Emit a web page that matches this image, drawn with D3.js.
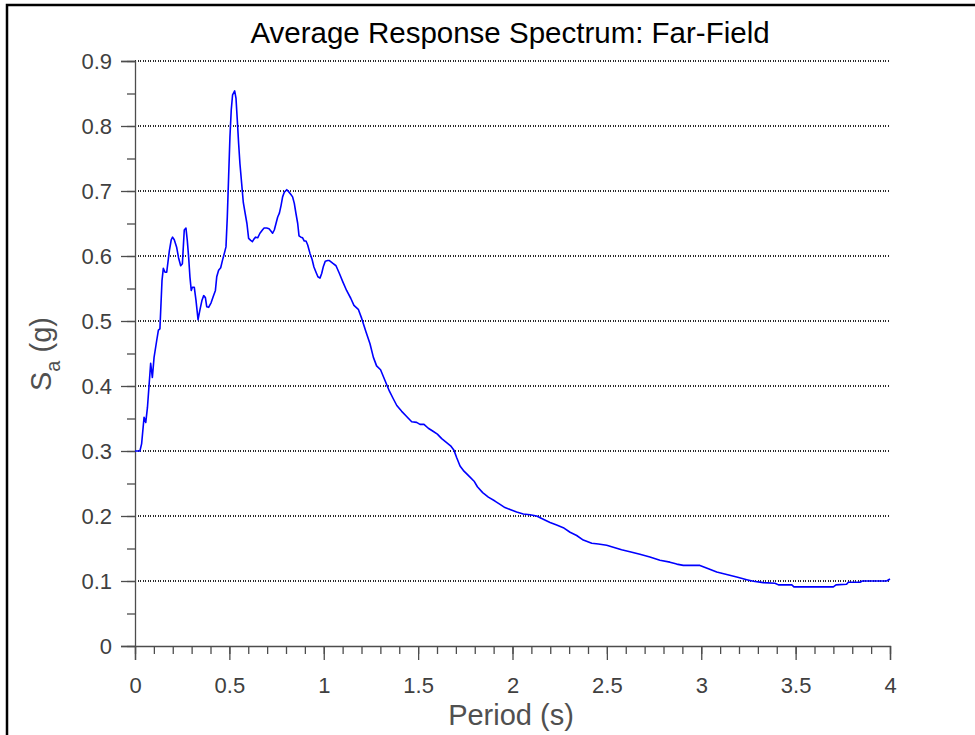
<!DOCTYPE html>
<html>
<head>
<meta charset="utf-8">
<script src="https://cdn.jsdelivr.net/npm/d3@7"></script>
<style>
  html, body { margin: 0; padding: 0; background: #fff; }
  svg { display: block; font-family: "Liberation Sans", Arial, Helvetica, sans-serif; }
</style>
</head>
<body>
<svg id="chart" width="975" height="735"></svg>
<script>
// ---- Data ----
const titleText = "Average Response Spectrum: Far-Field";
const xLabel = "Period (s)";
const xTicks = [0, 0.5, 1, 1.5, 2, 2.5, 3, 3.5, 4];
const xTickLabels = ["0", "0.5", "1", "1.5", "2", "2.5", "3", "3.5", "4"];
const yTicks = [0, 0.1, 0.2, 0.3, 0.4, 0.5, 0.6, 0.7, 0.8, 0.9];
const yTickLabels = ["0", "0.1", "0.2", "0.3", "0.4", "0.5", "0.6", "0.7", "0.8", "0.9"];
const xMinorTicks = d3.range(0, 41).map(i => i / 10);
const yMinorTicks = d3.range(0, 19).map(i => i / 20);

const period = [
  0, 0.026, 0.035, 0.048, 0.057, 0.066, 0.083, 0.092, 0.101, 0.115,
  0.124, 0.132, 0.143, 0.150, 0.159, 0.168, 0.182, 0.192, 0.199, 0.208,
  0.221, 0.231, 0.242, 0.251, 0.261, 0.270, 0.277, 0.284, 0.291, 0.298,
  0.304, 0.314, 0.323, 0.334, 0.344, 0.355, 0.364, 0.373, 0.380, 0.390,
  0.403, 0.415, 0.426, 0.433, 0.443, 0.454, 0.464, 0.475, 0.482, 0.489,
  0.496, 0.503, 0.510, 0.517, 0.528, 0.535, 0.542, 0.549, 0.556, 0.565,
  0.574, 0.584, 0.593, 0.602, 0.613, 0.622, 0.630, 0.639, 0.650, 0.662,
  0.675, 0.684, 0.698, 0.710, 0.721, 0.729, 0.738, 0.747, 0.756, 0.765,
  0.774, 0.782, 0.791, 0.804, 0.814, 0.825, 0.835, 0.844, 0.853, 0.862,
  0.869, 0.879, 0.888, 0.897, 0.906, 0.915, 0.927, 0.938, 0.948, 0.959,
  0.969, 0.980, 0.989, 0.998, 1.008, 1.021, 1.030, 1.047, 1.065, 1.083,
  1.100, 1.121, 1.143, 1.160, 1.183, 1.201, 1.224, 1.245, 1.263, 1.280,
  1.301, 1.325, 1.348, 1.369, 1.387, 1.413, 1.439, 1.466, 1.492, 1.510,
  1.531, 1.554, 1.581, 1.602, 1.625, 1.651, 1.672, 1.690, 1.704, 1.722,
  1.743, 1.771, 1.798, 1.814, 1.842, 1.872, 1.907, 1.934, 1.960, 1.987,
  2.022, 2.057, 2.093, 2.128, 2.163, 2.199, 2.234, 2.269, 2.305, 2.340,
  2.375, 2.420, 2.455, 2.499, 2.534, 2.578, 2.622, 2.675, 2.728, 2.781,
  2.834, 2.870, 2.905, 2.993, 3.038, 3.082, 3.135, 3.188, 3.241, 3.276,
  3.329, 3.391, 3.409, 3.480, 3.491, 3.700, 3.714, 3.770, 3.779, 3.841,
  3.853, 3.982, 4.0
];
const sa = [
  0.300, 0.300, 0.311, 0.352, 0.344, 0.367, 0.435, 0.413, 0.444, 0.470,
  0.486, 0.488, 0.562, 0.581, 0.575, 0.575, 0.608, 0.625, 0.629, 0.625,
  0.613, 0.597, 0.585, 0.588, 0.640, 0.643, 0.624, 0.599, 0.568, 0.547,
  0.552, 0.552, 0.532, 0.502, 0.517, 0.532, 0.539, 0.536, 0.522, 0.521,
  0.528, 0.538, 0.547, 0.568, 0.578, 0.582, 0.594, 0.606, 0.614, 0.660,
  0.722, 0.783, 0.825, 0.848, 0.854, 0.843, 0.809, 0.773, 0.742, 0.712,
  0.682, 0.665, 0.650, 0.627, 0.624, 0.622, 0.626, 0.629, 0.628, 0.635,
  0.640, 0.643, 0.643, 0.642, 0.638, 0.635, 0.640, 0.650, 0.660, 0.666,
  0.678, 0.691, 0.698, 0.702, 0.699, 0.695, 0.691, 0.681, 0.665, 0.650,
  0.631, 0.629, 0.628, 0.623, 0.623, 0.617, 0.604, 0.595, 0.583, 0.575,
  0.568, 0.566, 0.573, 0.584, 0.592, 0.593, 0.593, 0.589, 0.585, 0.573,
  0.561, 0.547, 0.535, 0.524, 0.518, 0.504, 0.483, 0.465, 0.444, 0.431,
  0.425, 0.408, 0.392, 0.380, 0.370, 0.361, 0.353, 0.345, 0.344, 0.341,
  0.341, 0.335, 0.330, 0.326, 0.319, 0.313, 0.308, 0.301, 0.290, 0.277,
  0.269, 0.261, 0.253, 0.245, 0.236, 0.229, 0.223, 0.218, 0.213, 0.210,
  0.206, 0.203, 0.202, 0.200, 0.195, 0.190, 0.186, 0.182, 0.175, 0.170,
  0.163, 0.158, 0.157, 0.155, 0.152, 0.148, 0.145, 0.141, 0.137, 0.132,
  0.129, 0.126, 0.124, 0.124, 0.119, 0.114, 0.110, 0.106, 0.102, 0.0995,
  0.0975, 0.0965, 0.094, 0.094, 0.091, 0.091, 0.094, 0.095, 0.098, 0.098,
  0.100, 0.100, 0.103
];

// ---- Layout ----
const svg = d3.select("#chart");
const plotLeft = 135, plotRight = 890, plotTop = 61, plotBottom = 646;
const x = d3.scaleLinear().domain([0, 4]).range([plotLeft, plotRight]);
const y = d3.scaleLinear().domain([0, 0.9]).range([plotBottom, plotTop]);
const axisColor = "#4d4d4d";
const textColor = "#404040";

// figure frame
svg.append("rect")
  .attr("x", 7).attr("y", 5).attr("width", 1000).attr("height", 1000)
  .attr("fill", "none").attr("stroke", "#000").attr("stroke-width", 2.5);

// gridlines
svg.append("g").selectAll("line")
  .data(yTicks.filter(v => v > 0))
  .join("line")
  .attr("x1", x(0)).attr("x2", x(4))
  .attr("y1", d => y(d)).attr("y2", d => y(d))
  .attr("stroke", "#2a2a2a").attr("stroke-width", 1.1)
  .attr("stroke-dasharray", "1.3,1.2")
  .attr("shape-rendering", "crispEdges");

// minor ticks
const yMinor = svg.append("g").attr("transform", `translate(${plotLeft},0)`)
  .call(d3.axisLeft(y).tickValues(yMinorTicks).tickSize(8).tickFormat(""));
const xMinor = svg.append("g").attr("transform", `translate(0,${plotBottom})`)
  .call(d3.axisBottom(x).tickValues(xMinorTicks).tickSize(8).tickFormat(""));

// major axes
const yAxis = svg.append("g").attr("transform", `translate(${plotLeft},0)`)
  .call(d3.axisLeft(y).tickValues(yTicks).tickSize(14).tickPadding(9)
    .tickFormat((d, i) => yTickLabels[i]));
const xAxis = svg.append("g").attr("transform", `translate(0,${plotBottom})`)
  .call(d3.axisBottom(x).tickValues(xTicks).tickSize(14).tickPadding(17)
    .tickFormat((d, i) => xTickLabels[i]));

[yMinor, xMinor, yAxis, xAxis].forEach(g => {
  g.select(".domain").attr("stroke", axisColor).attr("stroke-width", 1.3);
  g.selectAll(".tick line").attr("stroke", axisColor).attr("stroke-width", 1.3);
  g.selectAll(".tick text").attr("fill", textColor)
    .style("font-size", "22px").style("font-family", "Liberation Sans, Arial, sans-serif");
});
[yMinor, xMinor].forEach(g => g.select(".domain").remove());

// the curve
const line = d3.line().x((d, i) => x(period[i])).y((d, i) => y(sa[i]));
svg.append("path")
  .datum(sa)
  .attr("d", line)
  .attr("fill", "none")
  .attr("stroke", "#0000ff")
  .attr("stroke-width", 1.6)
  .attr("stroke-linejoin", "round");

// title
svg.append("text")
  .attr("x", 510).attr("y", 43)
  .attr("text-anchor", "middle")
  .attr("fill", "#000")
  .style("font-size", "29.5px")
  .text(titleText);

// x label
svg.append("text")
  .attr("x", 511).attr("y", 725)
  .attr("text-anchor", "middle")
  .attr("fill", "#505050")
  .style("font-size", "29px")
  .text(xLabel);

// y label with subscript
const yl = svg.append("text")
  .attr("transform", "translate(51,354) rotate(-90)")
  .attr("text-anchor", "middle")
  .attr("fill", "#505050")
  .style("font-size", "29px");
yl.append("tspan").text("S");
yl.append("tspan").attr("dy", 9).style("font-size", "20px").text("a");
yl.append("tspan").attr("dy", -9).text(" (g)");
</script>
</body>
</html>
